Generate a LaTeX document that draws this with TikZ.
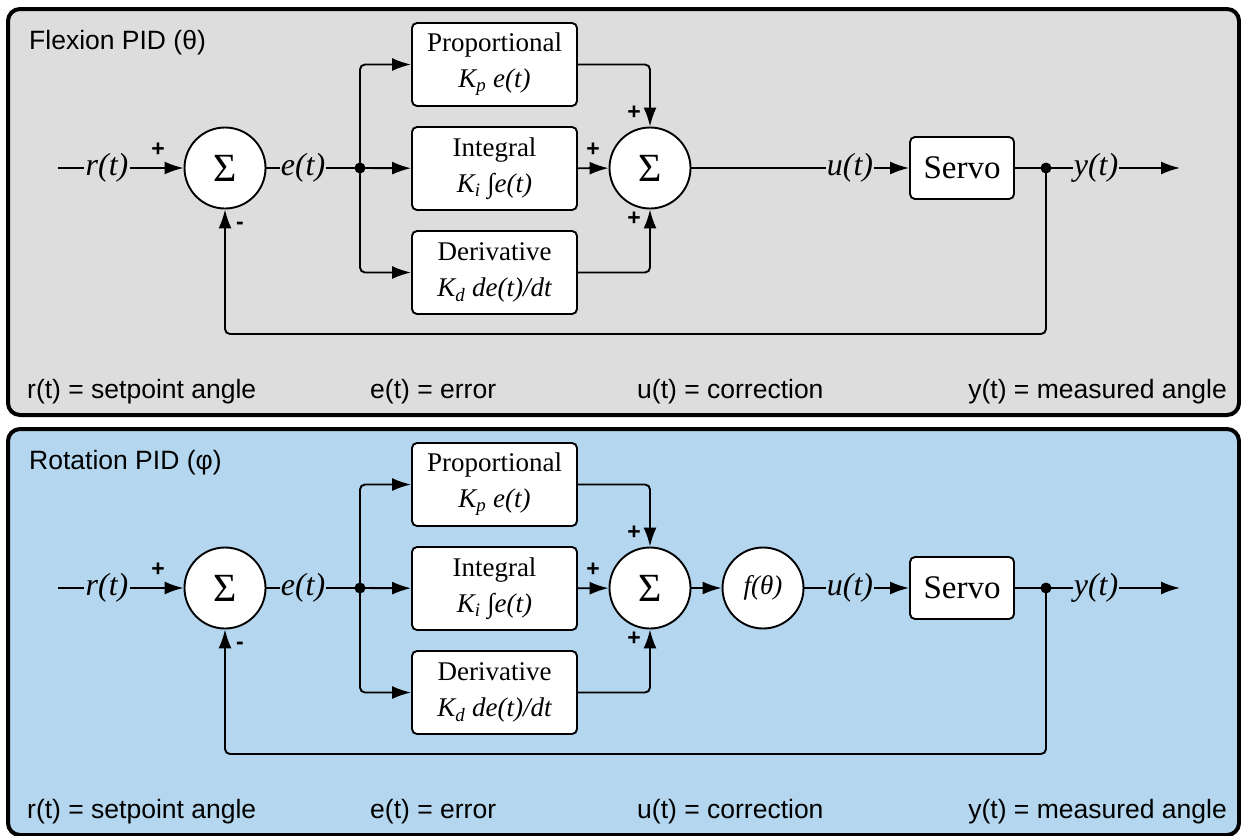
\documentclass[tikz,border=0pt]{standalone}
\usepackage{fontspec}
\setmainfont{Liberation Serif}
\setsansfont{Liberation Sans}
\usetikzlibrary{arrows.meta}
\definecolor{panelGray}{RGB}{221,221,221}
\definecolor{panelBlue}{RGB}{180,214,238}
\newcommand\sizeText[2]{\fontsize{#1}{#2}\selectfont}
\newcommand\Kgain[1]{K\textsubscript{#1}}
\tikzset{
	wire/.style={line width=1.9pt},
	sig/.style={wire,-{Latex[length=19pt,width=13pt]}},
	sumnode/.style={circle,draw,line width=1.9pt,fill=white,minimum size=81pt,inner sep=0pt,font=\sizeText{40}{42}},
	gainbox/.style={draw,line width=1.9pt,fill=white,rounded corners=5pt,minimum width=165pt,minimum height=83pt,align=center,inner sep=0pt,font=\sizeText{27}{36}},
	siglabel/.style={inner sep=1pt,font=\sizeText{32}{36}\itshape},
	signlabel/.style={inner sep=0pt,font=\sffamily\bfseries\sizeText{23}{23}},
	legend/.style={inner sep=0pt,font=\sffamily\sizeText{26.5}{30}},
}
\newcommand\PIDPanel[5]{%
% vertical shift, fill colour, name prefix, title, f block (1) or not (0)
	\begin{scope}[shift={(0,#1)}, name prefix=#3-]
	\filldraw[fill=#2, draw=black, line width=4pt, rounded corners=12pt] (8,9) rectangle (1239,415);
	\node[legend, anchor=west] (title) at (29,43) {#4};
	% forward path
	\coordinate (rin) at (58,168);
	\node[siglabel] (rlab) at (107,168) {r(t)};
	\node[sumnode] (sumIn) at (225,168) {Σ};
	\node[siglabel] (elab) at (303,168) {e(t)};
	\coordinate (split) at (360,168);
	\node[gainbox] (boxP) at (494.5,64.5) {Proportional\\{\itshape\Kgain{p} e(t)}};
	\node[gainbox] (boxI) at (494.5,168.5) {Integral\\{\itshape\Kgain{i} ∫e(t)}};
	\node[gainbox] (boxD) at (494.5,272.5) {Derivative\\{\itshape\Kgain{d} de(t)/dt}};
	\node[sumnode] (sumOut) at (650,168) {Σ};
	\ifnum#5=1 \node[sumnode, font=\sizeText{27}{30}\itshape] (fblk) at (763,168) {f(θ)}; \fi
	\node[siglabel] (ulab) at (850,168) {u(t)};
	\node[gainbox, minimum width=104pt, minimum height=62pt, font=\sizeText{33}{36}] (servo) at (962,168) {Servo};
	\coordinate (tap) at (1046,168);
	\node[siglabel] (ylab) at (1096,168) {y(t)};
	\coordinate (yout) at (1180,168);
	% signs
	\node[signlabel] (pIn) at (158,150) {+};
	\node[signlabel] (mIn) at (240,226) {-};
	\node[signlabel] (pTop) at (634,113) {+};
	\node[signlabel] (pMid) at (593,150) {+};
	\node[signlabel] (pBot) at (634,219) {+};
	% wires
	\draw[wire] (rin) -- (rlab);
	\draw[sig] (rlab) -- (sumIn);
	\draw[wire] (sumIn) -- (elab);
	\draw[wire] (elab) -- (split);
	\draw[sig, rounded corners=5pt] (split) |- (boxP);
	\draw[sig] (split) -- (boxI);
	\draw[sig, rounded corners=5pt] (split) |- (boxD);
	\draw[sig, rounded corners=5pt] (boxP) -| (sumOut);
	\draw[sig] (boxI) -- (sumOut);
	\draw[sig, rounded corners=5pt] (boxD) -| (sumOut);
	\ifnum#5=1
		\draw[sig] (sumOut) -- (fblk);
		\draw[wire] (fblk) -- (ulab);
	\else
		\draw[wire] (sumOut) -- (ulab);
	\fi
	\draw[sig] (ulab) -- (servo);
	\draw[wire] (servo) -- (tap);
	\draw[wire] (tap) -- (ylab);
	\draw[sig] (ylab) -- (yout);
	\draw[sig, rounded corners=5pt] (tap) -- ++(0,166) -| (sumIn);
	\fill (split) circle (5.5pt);
	\fill (tap) circle (5.5pt);
	% legend
	\node[legend, anchor=west] (rnote) at (27,392) {r(t) = setpoint angle};
	\node[legend, anchor=west] (enote) at (370,392) {e(t) = error};
	\node[legend, anchor=west] (unote) at (637,392) {u(t) = correction};
	\node[legend, anchor=east] (ynote) at (1227,392) {y(t) = measured angle};
	\end{scope}
}

\begin{document}
\begin{tikzpicture}[x=1pt,y=-1pt]
	\useasboundingbox (0,0) rectangle (1241,835);
	\PIDPanel{0}{panelGray}{flex}{Flexion PID (θ)}{0}
	\PIDPanel{420}{panelBlue}{rot}{Rotation PID (φ)}{1}
\end{tikzpicture}
\end{document}
